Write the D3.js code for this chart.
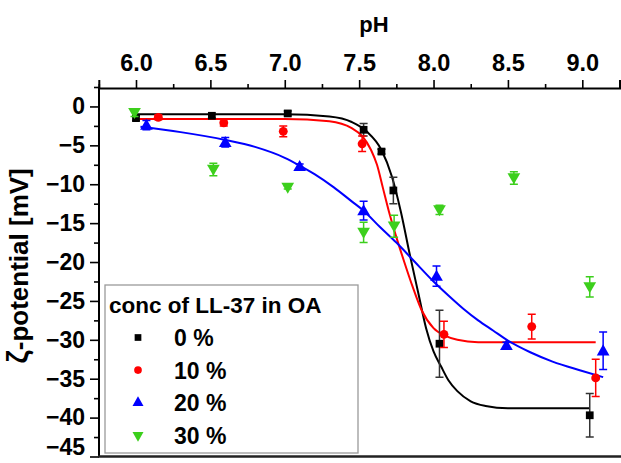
<!DOCTYPE html>
<html>
<head>
<meta charset="utf-8">
<script src="https://cdn.jsdelivr.net/npm/d3@7"></script>
<style>
  body { margin: 0; background: #fff; }
  svg { display: block; font-family: "Liberation Sans", Arial, sans-serif; }
</style>
</head>
<body>
<div id="container"></div>
<script>
/* CONSTANTS AND GLOBALS */
const width = 621,
  height = 463

/* DATA */
const seriesNames = ["0 %", "10 %", "20 %", "30 %"]
const colors = ["#000000", "#ff0000", "#0000ff", "#3ccf1c"]

const ph0 = [6.0, 6.51, 7.02, 7.53, 7.65, 7.73, 8.04, 9.05]
const zeta0 = [-1.5, -1.2, -0.9, -3.0, -5.8, -10.8, -30.5, -39.7]
const err0 = [0.3, 0.3, 0.3, 0.8, 0.3, 1.7, 4.3, 2.8]

const ph10 = [6.15, 6.59, 6.99, 7.52, 8.07, 8.66, 9.09]
const zeta10 = [-1.4, -2.1, -3.2, -4.8, -29.3, -28.3, -34.9]
const err10 = [0.3, 0.4, 0.7, 1.0, 1.7, 1.6, 2.4]

const ph20 = [6.07, 6.60, 7.10, 7.53, 8.02, 8.49, 9.14]
const zeta20 = [-2.4, -4.6, -7.7, -13.4, -21.8, -30.7, -31.4]
const err20 = [0.6, 0.6, 0.3, 1.2, 1.3, 0.4, 2.4]

const ph30 = [5.99, 6.52, 7.02, 7.53, 7.735, 8.04, 8.54, 9.05]
const zeta30 = [-0.8, -8.1, -10.4, -16.2, -15.4, -13.3, -9.2, -23.2]
const err30 = [0.5, 0.8, 0.2, 1.3, 1.4, 0.6, 0.8, 1.3]

// fitted curves, traced point by point
const fit0 = [[6.0,-1.0],[6.5,-1.0],[7.0,-1.0],[7.3,-1.3],[7.45,-2.0],[7.55,-3.2],[7.65,-5.6],[7.72,-9.0],[7.78,-13.5],[7.84,-19],[7.9,-24.2],[7.95,-28.5],[8.0,-31.5],[8.05,-33.4],[8.1,-35.2],[8.16,-36.6],[8.25,-37.9],[8.35,-38.5],[8.5,-38.8],[9.05,-38.8]]
const fit10 = [[6.0,-1.6],[7.0,-1.6],[7.3,-1.9],[7.45,-2.8],[7.52,-3.8],[7.58,-5.6],[7.62,-7.5],[7.66,-10.5],[7.7,-13.5],[7.75,-16.8],[7.8,-19.8],[7.86,-23.2],[7.92,-26.2],[8.0,-28.5],[8.08,-29.5],[8.16,-30.0],[8.3,-30.3],[9.09,-30.3]]
const fit20 = [[6.03,-2.6],[6.3,-3.3],[6.6,-4.3],[6.8,-5.2],[7.0,-6.6],[7.1,-7.6],[7.2,-8.7],[7.33,-10.4],[7.45,-12.2],[7.53,-13.4],[7.64,-15.5],[7.75,-17.5],[7.87,-19.9],[8.0,-22.5],[8.1,-24.3],[8.2,-26.0],[8.3,-27.5],[8.4,-28.8],[8.5,-30.1],[8.65,-31.6],[8.8,-32.8],[9.0,-34.0],[9.14,-34.8]]

const xTicks = [6.0, 6.5, 7.0, 7.5, 8.0, 8.5, 9.0]
const yTicks = [0, -5, -10, -15, -20, -25, -30, -35, -40, -45]

const series = [
  { ph: ph0, zeta: zeta0, err: err0, fit: fit0, shape: d3.symbolSquare, size: 60, rot: 0 },
  { ph: ph10, zeta: zeta10, err: err10, fit: fit10, shape: d3.symbolCircle, size: 62, rot: 0 },
  { ph: ph20, zeta: zeta20, err: err20, fit: fit20, shape: d3.symbolTriangle, size: 70, rot: 0 },
  { ph: ph30, zeta: zeta30, err: err30, fit: null, shape: d3.symbolTriangle, size: 70, rot: 180 }
]

const svg = d3.select("#container")
  .append("svg")
  .attr("width", width)
  .attr("height", height)

/* SCALES */
const xScale = d3.scaleLinear()
  .domain([5.75, 9.25])
  .range([98.8, 619.5])

const yScale = d3.scaleLinear()
  .domain([-45, 2.5])
  .range([456.5, 87])

/* LEGEND BOX (behind the data) */
const legend = svg.append("g").attr("class", "legend")
legend.append("rect")
  .attr("x", 105)
  .attr("y", 285)
  .attr("width", 253)
  .attr("height", 168)
  .attr("fill", "none")
  .attr("stroke", "#9a9a9a")
  .attr("stroke-width", 1.3)

/* FIT LINES */
const line = d3.line()
  .x(d => xScale(d[0]))
  .y(d => yScale(d[1]))
  .curve(d3.curveMonotoneX)

series.forEach((s, i) => {
  if (!s.fit) return
  svg.append("path")
    .datum(s.fit)
    .attr("d", line)
    .attr("fill", "none")
    .attr("stroke", colors[i])
    .attr("stroke-width", 2)
})

/* ERROR BARS + POINTS */
series.forEach((s, i) => {
  const pts = s.ph.map((p, j) => ({ ph: p, z: s.zeta[j], e: s.err[j] }))
  const g = svg.append("g").attr("class", "series-" + i)
  const col = i === 0 ? "#333" : colors[i]

  g.selectAll(".eb")
    .data(pts)
    .join("path")
    .attr("class", "eb")
    .attr("d", d => {
      const x = xScale(d.ph), y1 = yScale(d.z + d.e), y2 = yScale(d.z - d.e)
      return `M${x},${y1}V${y2}M${x - 4},${y1}H${x + 4}M${x - 4},${y2}H${x + 4}`
    })
    .attr("fill", "none")
    .attr("stroke", col)
    .attr("stroke-width", 1.5)

  g.selectAll(".pt")
    .data(pts)
    .join("path")
    .attr("class", "pt")
    .attr("d", d3.symbol().type(s.shape).size(s.size))
    .attr("transform", d => `translate(${xScale(d.ph)},${yScale(d.z) + (s.shape === d3.symbolTriangle ? (s.rot ? -1 : 1) : 0)}) rotate(${s.rot})`)
    .attr("fill", colors[i])
})

/* AXES */
const topAxis = svg.append("g")
  .attr("class", "x-axis")
  .attr("transform", "translate(0,88)")
  .call(d3.axisTop(xScale).tickValues(xTicks).tickFormat(d3.format(".1f")).tickSize(8).tickPadding(9))
topAxis.select(".domain").attr("stroke-width", 2)
topAxis.selectAll(".tick line").attr("stroke-width", 1.6)
topAxis.selectAll("text")
  .style("font-size", "23.5px")
  .style("font-weight", "bold")
  .attr("fill", "#000")

svg.append("g")
  .attr("transform", "translate(0,88)")
  .call(d3.axisTop(xScale).tickValues(d3.range(5.75, 9.26, 0.5)).tickFormat("").tickSize(4))
  .call(g => g.select(".domain").remove())
  .selectAll("line").attr("stroke-width", 1.6)

const leftAxis = svg.append("g")
  .attr("class", "y-axis")
  .attr("transform", "translate(99,0)")
  .call(d3.axisLeft(yScale).tickValues(yTicks).tickSize(9).tickPadding(5))
leftAxis.select(".domain").attr("stroke-width", 2).attr("d", `M0,${yScale(2.5)}V${yScale(-45)}`)
leftAxis.selectAll(".tick line").attr("stroke-width", 1.6)
leftAxis.selectAll("text")
  .style("font-size", "23px")
  .style("font-weight", "bold")
  .attr("fill", "#000")
// lowest label sits right at the bottom edge; lift it so it stays inside
leftAxis.selectAll(".tick text").filter(d => d === -45).attr("dy", "-0.08em")

svg.append("g")
  .attr("transform", "translate(99,0)")
  .call(d3.axisLeft(yScale).tickValues(d3.range(-42.5, 2.6, 5)).tickFormat("").tickSize(5))
  .call(g => g.select(".domain").remove())
  .selectAll("line").attr("stroke-width", 1.6)

// bottom frame line
svg.append("line")
  .attr("x1", 98)
  .attr("x2", width)
  .attr("y1", yScale(-45))
  .attr("y2", yScale(-45))
  .attr("stroke", "#222")
  .attr("stroke-width", 2.5)

/* AXIS TITLES */
svg.append("text")
  .attr("x", xScale(7.6))
  .attr("y", 32)
  .attr("text-anchor", "middle")
  .style("font-size", "22px")
  .style("font-weight", "bold")
  .text("pH")

const yTitle = svg.append("text")
  .attr("transform", `translate(28,${yScale(-20.5)}) rotate(-90)`)
  .attr("text-anchor", "middle")
  .style("font-size", "26px")
  .style("font-weight", "600")
yTitle.append("tspan").style("font-size", "29px").text("ζ")
yTitle.append("tspan").text("-potential [mV]")

/* LEGEND CONTENT */
legend.append("text")
  .attr("x", 109)
  .attr("y", 313)
  .style("font-size", "22.5px")
  .style("font-weight", "bold")
  .text("conc of LL-37 in OA")

series.forEach((s, i) => {
  const yc = 337.5 + i * 32.6
  legend.append("path")
    .attr("d", d3.symbol().type(s.shape).size(s.size * 0.75))
    .attr("transform", `translate(138,${yc}) rotate(${s.rot})`)
    .attr("fill", colors[i])
  legend.append("text")
    .attr("x", 174)
    .attr("y", yc + 8.5)
    .style("font-size", "23px")
    .style("font-weight", "bold")
    .text(seriesNames[i])
})
</script>
</body>
</html>
